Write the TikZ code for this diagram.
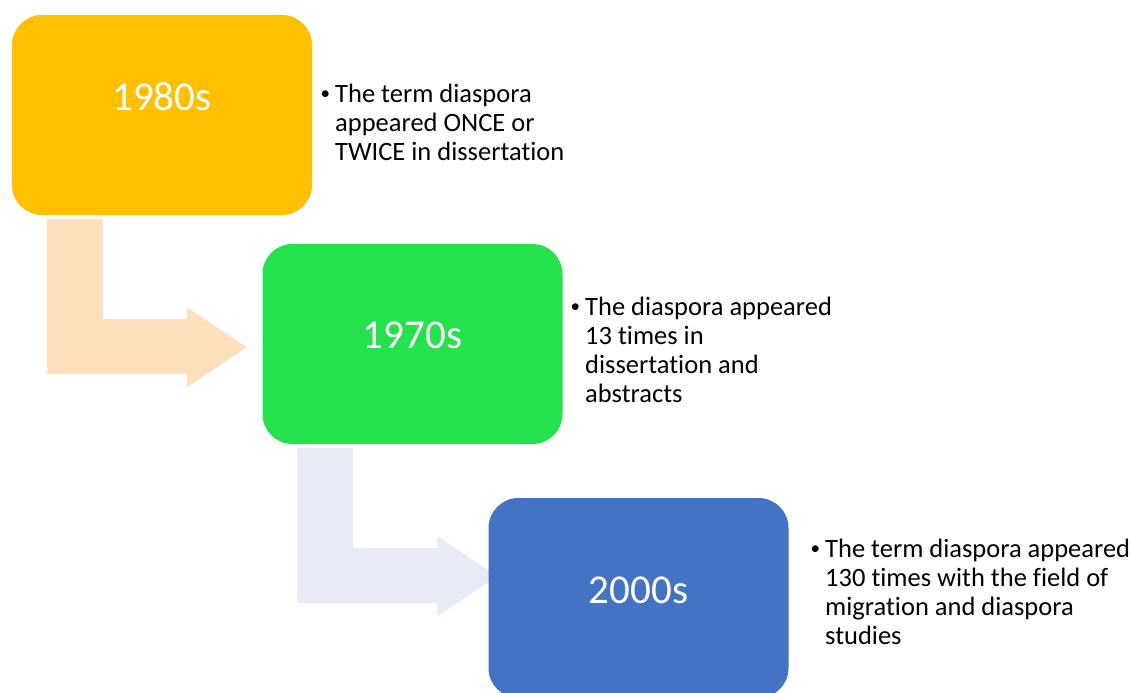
\documentclass[tikz,border=0pt]{standalone}
\usepackage{fontspec}
\setmainfont{Carlito}[Ligatures=NoCommon]
\usetikzlibrary{calc}
\definecolor{orangebox}{HTML}{FFC000}
\definecolor{greenbox}{HTML}{23E24B}
\definecolor{bluebox}{HTML}{4472C4}
\definecolor{orangearrow}{HTML}{FFE0BD}
\definecolor{bluearrow}{HTML}{E8EAF5}
\newcommand\mybentarrow[2]{%
  \fill[#2] ($(#1)+(35,4)$) -- ($(#1)+(91,4)$) -- ($(#1)+(91,104)$) -- ($(#1)+(175,104)$)
    -- ($(#1)+(175,92)$) -- ($(#1)+(235,132)$) -- ($(#1)+(175,172)$) -- ($(#1)+(175,159)$)
    -- ($(#1)+(35,159)$) -- cycle;}
\tikzset{
  yearbox/.style={rounded corners=30pt, minimum width=300pt, minimum height=200pt, inner sep=0pt},
  yearlabel/.style={anchor=base, inner sep=0pt, text=white, font=\fontsize{41}{49}\selectfont},
  notetext/.style={anchor=base west, align=left, inner sep=0pt, font=\fontsize{26.5}{29}\selectfont},
}
\newcommand\mybullet{\llap{\raisebox{3pt}{\fontsize{19}{19}\selectfont •}\hspace{5pt}}}
\begin{document}
\begin{tikzpicture}[x=1pt,y=-1pt]
\useasboundingbox (0,0) rectangle (1132,693);
\clip (0,0) rectangle (1132,693);
\node[yearbox, fill=orangebox] (b1) at (162,115) {};
\node[yearbox, fill=greenbox] (b2) at (412.5,344) {};
\mybentarrow{b1.south west}{orangearrow}
\mybentarrow{b2.south west}{bluearrow}
\node[yearbox, fill=bluebox] (b3) at (638.5,598) {};
\node[yearlabel] (l1) at (162,110) {1980s};
\node[yearlabel] (l2) at (412.5,348) {1970s};
\node[yearlabel] (l3) at (638.5,603) {2000s};
\node[notetext] (t1) at (335,160) {\mybullet The term diaspora\\appeared ONCE or\\TWICE in dissertation};
\node[notetext] (t2) at (585,402) {\mybullet The diaspora appeared\\13 times in\\dissertation and\\abstracts};
\node[notetext] (t3) at (825,644) {\mybullet The term diaspora appeared\\130 times with the field of\\migration and diaspora\\studies};
\end{tikzpicture}
\end{document}
